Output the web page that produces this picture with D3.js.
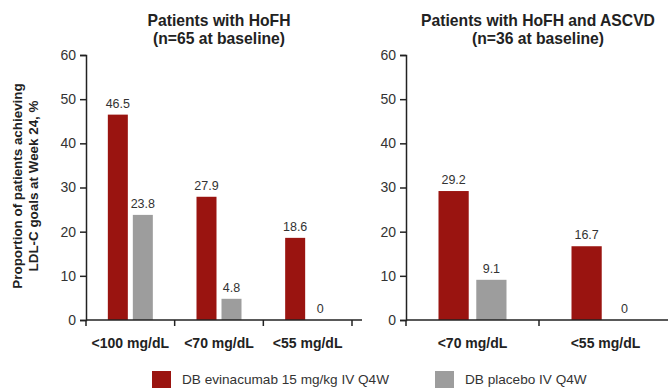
<!DOCTYPE html>
<html>
<head>
<meta charset="utf-8">
<script src="https://cdn.jsdelivr.net/npm/d3@7"></script>
<style>
  body { margin: 0; background: #fff; }
  text { font-family: "Liberation Sans", Arial, sans-serif; }
</style>
</head>
<body>
<div id="chart"></div>
<script>
// Chart data
const series = ["DB evinacumab 15 mg/kg IV Q4W", "DB placebo IV Q4W"];
const colors = ["#9a1410", "#9d9d9d"];

const leftCategories = ["<100 mg/dL", "<70 mg/dL", "<55 mg/dL"];
const leftEvinacumab = [46.5, 27.9, 18.6];
const leftPlacebo = [23.8, 4.8, 0];

const rightCategories = ["<70 mg/dL", "<55 mg/dL"];
const rightEvinacumab = [29.2, 16.7];
const rightPlacebo = [9.1, 0];

const yTicks = [0, 10, 20, 30, 40, 50, 60];

const width = 668, height = 388;

const svg = d3.select("#chart").append("svg")
    .attr("width", width)
    .attr("height", height);

const y = d3.scaleLinear().domain([0, 60]).range([320, 55]);

// Draws one panel of grouped bars
function drawPanel(opts) {
    const g = svg.append("g");

    const x0 = d3.scaleBand()
        .domain(opts.categories)
        .range([opts.x0, opts.x1])
        .paddingInner(0)
        .paddingOuter(0);

    const x1 = d3.scaleBand()
        .domain(series)
        .range([0, opts.groupWidth])
        .paddingInner(0.2);

    const rows = opts.categories.map((c, i) => ({
        cat: c,
        values: [
            { key: series[0], value: opts.red[i] },
            { key: series[1], value: opts.gray[i] }
        ]
    }));

    const groups = g.selectAll(".grp")
        .data(rows)
        .enter()
        .append("g")
        .attr("transform", d => `translate(${x0(d.cat) + (x0.bandwidth() - opts.groupWidth) / 2},0)`);

    groups.selectAll("rect")
        .data(d => d.values)
        .enter()
        .append("rect")
        .attr("x", d => x1(d.key))
        .attr("width", x1.bandwidth())
        .attr("y", d => y(d.value))
        .attr("height", d => y(0) - y(d.value))
        .attr("fill", (d, i) => colors[i]);

    groups.selectAll(".val")
        .data(d => d.values)
        .enter()
        .append("text")
        .attr("x", d => x1(d.key) + x1.bandwidth() / 2)
        .attr("y", d => y(d.value) - 7)
        .attr("text-anchor", "middle")
        .style("font-size", "12.5px")
        .style("fill", "#333")
        .text(d => d.value);

    // y axis
    const yAxis = g.append("g")
        .attr("transform", `translate(${opts.x0},0)`)
        .call(d3.axisLeft(y).tickValues(yTicks).tickSize(6).tickPadding(4));
    yAxis.select(".domain").attr("stroke", "#222").attr("stroke-width", 1.5);
    yAxis.selectAll(".tick line").attr("stroke", "#222").attr("stroke-width", 1.5);
    yAxis.selectAll(".tick text")
        .style("font-size", "14px")
        .style("font-family", "'Liberation Sans', Arial, sans-serif")
        .attr("fill", "#333");

    // x axis with ticks between groups
    const xAxis = g.append("g").attr("transform", `translate(0,${y(0)})`);
    xAxis.append("line")
        .attr("x1", opts.x0).attr("x2", opts.x1 + 10)
        .attr("stroke", "#222").attr("stroke-width", 1.5);
    const edges = opts.categories.map(c => x0(c)).concat([opts.x1]);
    xAxis.selectAll(".xt")
        .data(edges)
        .enter()
        .append("line")
        .attr("x1", d => d).attr("x2", d => d)
        .attr("y1", 0).attr("y2", 6)
        .attr("stroke", "#222").attr("stroke-width", 1.5);
    xAxis.selectAll(".xl")
        .data(opts.categories)
        .enter()
        .append("text")
        .attr("x", d => x0(d) + x0.bandwidth() / 2)
        .attr("y", 28)
        .attr("text-anchor", "middle")
        .style("font-size", "14px")
        .style("font-weight", "bold")
        .style("fill", "#222")
        .text(d => d);

    // title
    const title = g.append("text")
        .attr("x", opts.titleX)
        .attr("text-anchor", "middle")
        .style("font-size", "15.7px")
        .style("font-weight", "bold")
        .style("fill", "#222");
    title.append("tspan").attr("x", opts.titleX).attr("y", 26).text(opts.title[0]);
    title.append("tspan").attr("x", opts.titleX).attr("y", 44).text(opts.title[1]);
}

drawPanel({
    categories: leftCategories, red: leftEvinacumab, gray: leftPlacebo,
    x0: 86, x1: 352, groupWidth: 45,
    title: ["Patients with HoFH", "(n=65 at baseline)"], titleX: 219
});

drawPanel({
    categories: rightCategories, red: rightEvinacumab, gray: rightPlacebo,
    x0: 406, x1: 672, groupWidth: 68,
    title: ["Patients with HoFH and ASCVD", "(n=36 at baseline)"], titleX: 538
});

// y axis title
const yTitle = svg.append("text")
    .attr("transform", "translate(0,186) rotate(-90)")
    .attr("text-anchor", "middle")
    .style("font-size", "13.4px")
    .style("font-weight", "bold")
    .style("fill", "#222");
yTitle.append("tspan").attr("x", 0).attr("y", 22).text("Proportion of patients achieving");
yTitle.append("tspan").attr("x", 0).attr("y", 38).text("LDL-C goals at Week 24, %");

// legend
const legendX = [152, 435];
const legend = svg.selectAll(".legend")
    .data(series)
    .enter()
    .append("g")
    .attr("transform", (d, i) => `translate(${legendX[i]},371)`);
legend.append("rect")
    .attr("width", 19).attr("height", 17)
    .attr("fill", (d, i) => colors[i]);
legend.append("text")
    .attr("x", 30).attr("y", 13)
    .style("font-size", "13.6px")
    .style("fill", "#333")
    .text(d => d);
</script>
</body>
</html>
